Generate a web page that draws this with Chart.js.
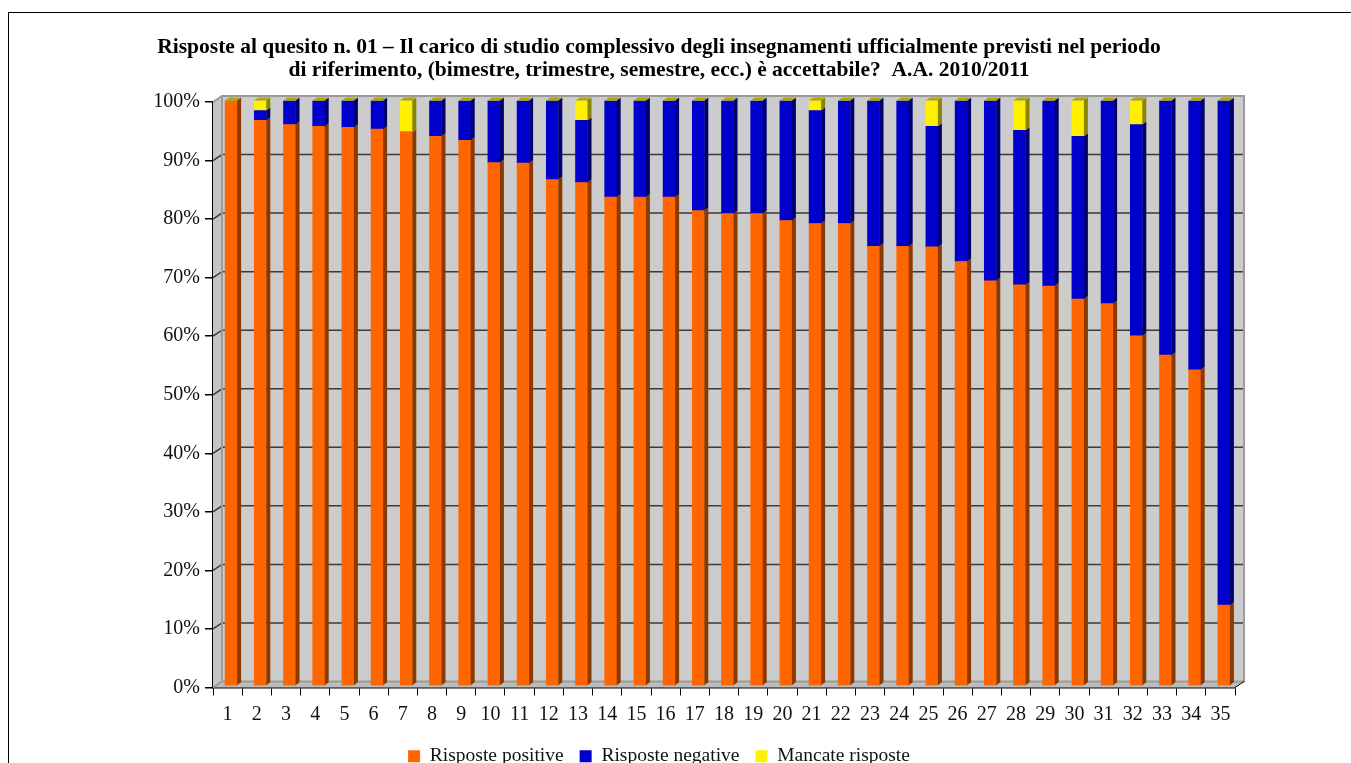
<!DOCTYPE html>
<html>
<head>
<meta charset="utf-8">
<script src="https://cdn.jsdelivr.net/npm/chart.js@4"></script>
<style>
  html, body { margin: 0; padding: 0; background: #ffffff; overflow: hidden; }
  #frame { position: absolute; left: 8px; top: 12px; width: 1400px; height: 800px; border: 1px solid #000; box-sizing: border-box; }
  #wrap { position: absolute; left: 0; top: 0; width: 1351px; height: 763px; }
</style>
</head>
<body>
<div id="frame"></div>
<div id="wrap"><canvas id="c" width="1351" height="763"></canvas></div>
<script>
const categories = ["1","2","3","4","5","6","7","8","9","10","11","12","13","14","15","16","17","18","19","20","21","22","23","24","25","26","27","28","29","30","31","32","33","34","35"];
const positive = [100, 96.6, 95.9, 95.6, 95.4, 95.1, 94.6, 93.9, 93.2, 89.4, 89.3, 86.5, 86.0, 83.5, 83.5, 83.5, 81.2, 80.7, 80.7, 79.5, 79.0, 79.0, 75.1, 75.1, 75.0, 72.5, 69.2, 68.5, 68.3, 66.1, 65.3, 59.8, 56.5, 54.0, 13.8];
const negative = [0, 1.7, 4.1, 4.4, 4.6, 4.9, 0, 6.1, 6.8, 10.6, 10.7, 13.5, 10.6, 16.5, 16.5, 16.5, 18.8, 19.3, 19.3, 20.5, 19.3, 21.0, 24.9, 24.9, 20.6, 27.5, 30.8, 26.4, 31.7, 27.8, 34.7, 36.1, 43.5, 46.0, 86.2];
const missing = [0, 1.7, 0, 0, 0, 0, 5.4, 0, 0, 0, 0, 0, 3.4, 0, 0, 0, 0, 0, 0, 0, 1.7, 0, 0, 0, 4.4, 0, 0, 5.1, 0, 6.1, 0, 4.1, 0, 0, 0];
const yTicks = [0, 10, 20, 30, 40, 50, 60, 70, 80, 90, 100];
const titleLines = ["Risposte al quesito n. 01 – Il carico di studio complessivo degli insegnamenti ufficialmente previsti nel periodo", "di riferimento, (bimestre, trimestre, semestre, ecc.) è accettabile?  A.A. 2010/2011"];
const seriesNames = ["Risposte positive", "Risposte negative", "Mancate risposte"];

const FONT = "'Liberation Serif', 'Times New Roman', serif";
const DX = 9, DY = 6;       // wall depth
const BDX = 4, BDY = 3;     // bar depth
const SHIFT_X = 3.5, SHIFT_Y = -1.5; // bars sit inside the depth

const wallsPlugin = {
  id: 'walls',
  beforeDatasetsDraw(chart) {
    const ctx = chart.ctx;
    const a = chart.chartArea;
    const ys = chart.scales.y;
    ctx.save();
    // left wall
    ctx.fillStyle = '#c4c4c4';
    ctx.beginPath();
    ctx.moveTo(a.left, a.top); ctx.lineTo(a.left + DX, a.top - DY);
    ctx.lineTo(a.left + DX, a.bottom - DY); ctx.lineTo(a.left, a.bottom);
    ctx.closePath(); ctx.fill();
    // floor
    ctx.fillStyle = '#bcbcbc';
    ctx.beginPath();
    ctx.moveTo(a.left, a.bottom); ctx.lineTo(a.left + DX, a.bottom - DY);
    ctx.lineTo(a.right + DX, a.bottom - DY); ctx.lineTo(a.right, a.bottom);
    ctx.closePath(); ctx.fill();
    // back wall
    ctx.fillStyle = '#cccccc';
    ctx.fillRect(a.left + DX, a.top - DY, a.right - a.left, a.bottom - a.top);
    // grid lines
    ctx.strokeStyle = '#3a3a3a'; ctx.lineWidth = 1.5;
    yTicks.forEach(v => {
      const py = ys.getPixelForValue(v);
      if (v === 0 || v === 100) return;
      ctx.beginPath();
      ctx.moveTo(a.left, py); ctx.lineTo(a.left + DX, py - DY);
      ctx.lineTo(a.right + DX, py - DY);
      ctx.stroke();
    });
    // wall borders
    ctx.strokeStyle = '#9a9a9a'; ctx.lineWidth = 2;
    ctx.strokeRect(a.left + DX, a.top - DY, a.right - a.left, a.bottom - a.top);
    ctx.beginPath();
    ctx.moveTo(a.left, a.top); ctx.lineTo(a.left + DX, a.top - DY);
    ctx.moveTo(a.left, a.bottom); ctx.lineTo(a.left + DX, a.bottom - DY);
    ctx.stroke();
    ctx.strokeStyle = '#000'; ctx.lineWidth = 1;
    ctx.beginPath();
    ctx.moveTo(a.right, a.bottom); ctx.lineTo(a.right + DX, a.bottom - DY);
    ctx.stroke();
    ctx.restore();
    // shift the bars into the depth of the plot
    ctx.save();
    ctx.translate(SHIFT_X, SHIFT_Y);
  },
  afterDatasetsDraw(chart) {
    const ctx = chart.ctx;
    const sideColors = ['#8a3a00', '#000070', '#8a8400'];
    const n = chart.data.labels.length;
    for (let i = 0; i < n; i++) {
      let topY = null, topX = null, topW = null;
      chart.data.datasets.forEach((ds, di) => {
        const meta = chart.getDatasetMeta(di);
        const el = meta.data[i];
        if (!el || !(ds.data[i] > 0)) return;
        const x = el.x, y = el.y, b = el.base, w = el.width;
        const r = x + w / 2;
        ctx.fillStyle = sideColors[di];
        ctx.beginPath();
        ctx.moveTo(r, y); ctx.lineTo(r + BDX, y - BDY);
        ctx.lineTo(r + BDX, b - BDY); ctx.lineTo(r, b);
        ctx.closePath(); ctx.fill();
        if (topY === null || y < topY) { topY = y; topX = x; topW = w; }
      });
      if (topY !== null) {
        const l = topX - topW / 2, r = topX + topW / 2;
        ctx.fillStyle = '#b4a600';
        ctx.beginPath();
        ctx.moveTo(l, topY); ctx.lineTo(l + BDX, topY - BDY);
        ctx.lineTo(r + BDX, topY - BDY); ctx.lineTo(r, topY);
        ctx.closePath(); ctx.fill();
      }
    }
    ctx.restore();
  }
};

new Chart(document.getElementById('c'), {
  type: 'bar',
  data: {
    labels: categories,
    datasets: [
      { label: seriesNames[0], data: positive, backgroundColor: '#ff6600', borderWidth: 0 },
      { label: seriesNames[1], data: negative, backgroundColor: '#0000cc', borderWidth: 0 },
      { label: seriesNames[2], data: missing, backgroundColor: '#fff000', borderWidth: 0 }
    ]
  },
  options: {
    responsive: false,
    animation: false,
    events: [],
    layout: { padding: { left: 83, right: 116, top: 36, bottom: -13 } },
    datasets: { bar: { barThickness: 12, grouped: false } },
    scales: {
      x: {
        stacked: true,
        afterFit(s) { s.height = 43; },
        grid: { offset: true, drawOnChartArea: false, drawTicks: true, tickLength: 8, color: '#000', lineWidth: 1 },
        border: { display: true, color: '#000', width: 1.5 },
        ticks: { color: '#111', font: { family: FONT, size: 20 }, padding: 7, maxRotation: 0, autoSkip: false }
      },
      y: {
        stacked: true,
        min: 0, max: 100,
        afterFit(s) { s.width = 130; },
        afterBuildTicks(s) { s.ticks = yTicks.map(v => ({ value: v })); },
        grid: { drawOnChartArea: false, drawTicks: true, tickLength: 8, color: '#000', lineWidth: 1.5 },
        border: { display: true, color: '#000', width: 1.5 },
        ticks: { color: '#111', font: { family: FONT, size: 20 }, padding: 5, callback: v => v + '%' }
      }
    },
    plugins: {
      title: {
        display: true,
        text: titleLines,
        color: '#000',
        font: { family: FONT, size: 21.5, weight: 'bold', lineHeight: 1.07 },
        padding: { top: 0, bottom: 20 }
      },
      legend: {
        position: 'bottom',
        labels: { boxWidth: 12, boxHeight: 12, color: '#111', font: { family: FONT, size: 19.5 }, padding: 16 }
      },
      tooltip: { enabled: false }
    }
  },
  plugins: [wallsPlugin]
});
</script>
</body>
</html>
